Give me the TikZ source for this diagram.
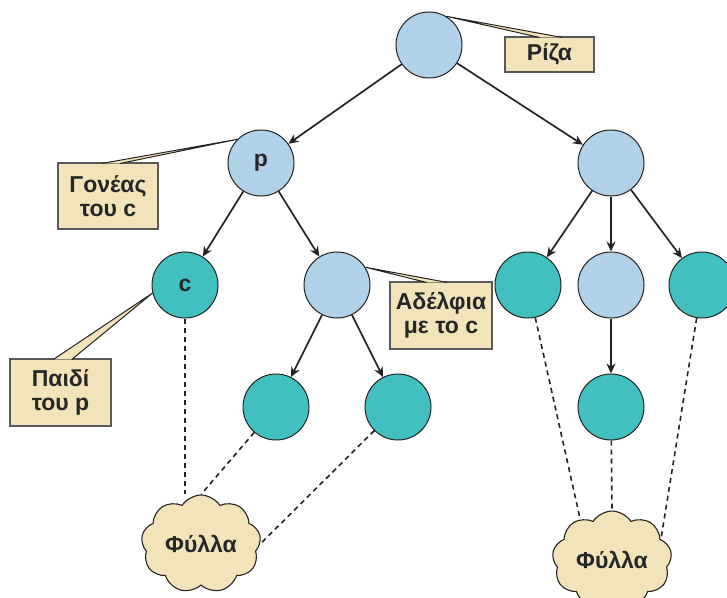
\documentclass[tikz,border=0pt]{standalone}
\usepackage{fontspec}
\setmainfont{Liberation Sans}
\usepackage{tikz}
\usetikzlibrary{
    positioning,
    arrows.meta,
    shapes.symbols,
    calc
}
\definecolor{innerblue}{RGB}{177,209,233}
\definecolor{leafteal}{RGB}{66,192,191}
\definecolor{notecream}{RGB}{242,227,186}
\definecolor{linegray}{RGB}{35,35,35}
\tikzset{
    innernode/.style={
        circle, draw=linegray, line width=1pt,
        fill=innerblue, minimum size=66pt, inner sep=0pt,
        font=\fontsize{23}{24}\selectfont\bfseries, text=black!85
    },
    leafnode/.style={
        innernode, fill=leafteal
    },
    notebox/.style={
        rectangle, draw=black!65, line width=1.1pt,
        fill=notecream, align=center, inner sep=2pt,
        font=\fontsize{23}{24}\selectfont\bfseries, text=black!85
    },
    leafcloud/.style={
        cloud, cloud puffs=9, cloud puff arc=115, aspect=1.35,
        draw=linegray, line width=1.1pt, fill=notecream,
        minimum width=118pt, minimum height=88pt,
        font=\fontsize{23}{24}\selectfont\bfseries, text=black!85
    },
    arrow/.style={
        -{Stealth[length=10pt, width=9pt]}, line width=1.7pt, draw=linegray
    },
    dashline/.style={
        dash pattern=on 5pt off 4pt, line width=1.6pt, draw=linegray
    },
    pointer/.style={
        draw=linegray, line width=1pt
    }
}
\begin{document}
\begin{tikzpicture}[x=1pt, y=-1pt]
    \useasboundingbox (0,0) rectangle (727,597);

    % tree
    \node[innernode] (root) at (429,45) {};
    \node[innernode] (p) at (261,163) {p};
    \node[innernode] (right_p) at (611,163) {};
    \node[leafnode] (c) at (185,285) {c};
    \node[innernode] (sib) at (337,285) {};
    \node[leafnode] (sib_a) at (276,407) {};
    \node[leafnode] (sib_b) at (398,407) {};
    \node[leafnode] (right_a) at (528,285) {};
    \node[innernode] (right_b) at (611,285) {};
    \node[leafnode] (right_c) at (702,285) {};
    \node[leafnode] (right_bb) at (611,407) {};

    \draw[arrow] (root) -- (p);
    \draw[arrow] (root) -- (right_p);
    \draw[arrow] (p) -- (c);
    \draw[arrow] (p) -- (sib);
    \draw[arrow] (sib) -- (sib_a);
    \draw[arrow] (sib) -- (sib_b);
    \draw[arrow] (right_p) -- (right_a);
    \draw[arrow] (right_p) -- (right_b);
    \draw[arrow] (right_p) -- (right_c);
    \draw[arrow] (right_b) -- (right_bb);

    % leaves
    \node[leafcloud] (leaves_l) at (201,544) {Φύλλα};
    \node[leafcloud] (leaves_r) at (612,560) {Φύλλα};

    \draw[dashline] (c.south) -- (c.south |- leaves_l.north);
    \draw[dashline] (sib_a) -- (leaves_l.north);
    \draw[dashline] (sib_b) -- (leaves_l.east);
    \draw[dashline] (right_a) -- (leaves_r.128);
    \draw[dashline] (right_bb) -- (leaves_r.north);
    \draw[dashline] (right_c) -- (leaves_r.23);

    % notes
    \node[notebox, minimum width=89pt, minimum height=35pt] (riza) at (549.5,54.5) {Ρίζα};
    \node[notebox, minimum width=100pt, minimum height=66pt] (goneas) at (108,196) {Γονέας\\του c};
    \node[notebox, minimum width=101pt, minimum height=67pt] (paidi) at (60.5,392.5) {Παιδί\\του p};
    \node[notebox, minimum width=102pt, minimum height=67pt] (adelfia) at (441,315.5) {Αδέλφια\\με το c};

    \coordinate (riza_l) at ($(riza.north west)!0.39!(riza.north east)+(0,1)$);
    \coordinate (riza_r) at ($(riza.north west)!0.64!(riza.north east)+(0,1)$);
    \coordinate (goneas_l) at ($(goneas.north west)!0.44!(goneas.north east)+(0,1)$);
    \coordinate (goneas_r) at ($(goneas.north west)!0.62!(goneas.north east)+(0,1)$);
    \coordinate (paidi_l) at ($(paidi.north west)!0.43!(paidi.north east)+(0,1)$);
    \coordinate (paidi_r) at ($(paidi.north west)!0.61!(paidi.north east)+(0,1)$);
    \coordinate (adelfia_l) at ($(adelfia.north west)!0.36!(adelfia.north east)+(0,1)$);
    \coordinate (adelfia_r) at ($(adelfia.north west)!0.56!(adelfia.north east)+(0,1)$);

    \fill[notecream] (root.59) -- (riza_l) -- (riza_r) -- cycle;
    \draw[pointer] (riza_l) -- (root.59) -- (riza_r);
    \fill[notecream] (p.135) -- (goneas_l) -- (goneas_r) -- cycle;
    \draw[pointer] (goneas_l) -- (p.135) -- (goneas_r);
    \fill[notecream] (c.194) -- (paidi_l) -- (paidi_r) -- cycle;
    \draw[pointer] (paidi_l) -- (c.194) -- (paidi_r);
    \fill[notecream] (sib.32) -- (adelfia_l) -- (adelfia_r) -- cycle;
    \draw[pointer] (adelfia_l) -- (sib.32) -- (adelfia_r);
\end{tikzpicture}
\end{document}
